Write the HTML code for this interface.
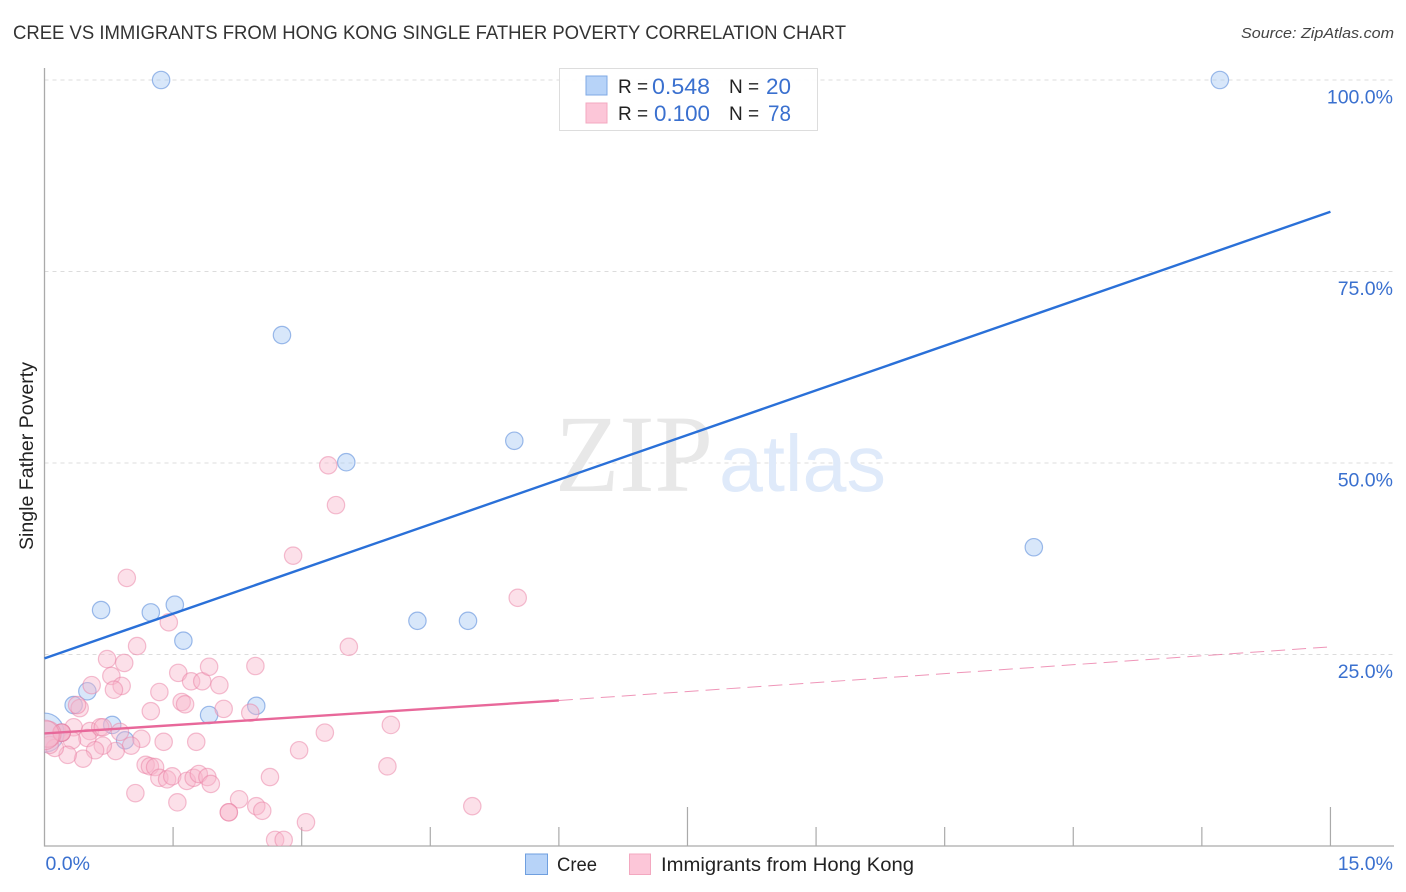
<!DOCTYPE html>
<html>
<head>
<meta charset="utf-8">
<title>Cree vs Immigrants from Hong Kong Single Father Poverty Correlation Chart</title>
<style>
html,body{margin:0;padding:0;background:#fff;width:1406px;height:892px;overflow:hidden}
svg{display:block}
text{font-family:"Liberation Sans",sans-serif}
</style>
</head>
<body>
<svg id="chart" width="1406" height="892" viewBox="0 0 1406 892" xmlns="http://www.w3.org/2000/svg">
  <defs><clipPath id="plot-clip"><rect x="44.5" y="60" width="1350" height="786"/></clipPath></defs>
  <text x="13" y="39" font-size="19" fill="#333" textLength="833" lengthAdjust="spacingAndGlyphs">CREE VS IMMIGRANTS FROM HONG KONG SINGLE FATHER POVERTY CORRELATION CHART</text>
  <text x="1241" y="38" font-size="15" font-style="italic" fill="#444" textLength="153" lengthAdjust="spacingAndGlyphs">Source: ZipAtlas.com</text>
  <g id="grid"></g>
  <g>
    <text x="555" y="491" font-size="110" fill="#e8e8e8" style="font-family:'Liberation Serif',serif" textLength="158" lengthAdjust="spacingAndGlyphs">ZIP</text>
    <text x="719" y="491" font-size="80" fill="#dfeafa" textLength="167" lengthAdjust="spacingAndGlyphs">atlas</text>
  </g>
  <g id="axes"></g>
  <g id="marks" clip-path="url(#plot-clip)"></g>
  <g id="trends"></g>
  <g id="ylabels" font-size="19.5" fill="#3a70cf" text-anchor="end"></g>
  <g id="xlabels" font-size="19.5" fill="#3a70cf"></g>
  <text transform="translate(33,456) rotate(-90)" font-size="19" fill="#222" text-anchor="middle" textLength="188" lengthAdjust="spacingAndGlyphs">Single Father Poverty</text>

  <g>
    <rect x="559.5" y="68.5" width="258" height="62" fill="#fff" fill-opacity="0.9" stroke="#ddd"/>
    <rect x="586" y="76" width="21" height="19" fill="#b7d3f8" stroke="#7fa9e4"/>
    <rect x="586" y="103" width="21" height="20" fill="#fcc6d8" stroke="#f3a8c0"/>
    <text x="618" y="93" font-size="19" fill="#222">R =</text>
    <text x="652" y="94" font-size="22" fill="#3a70cf" textLength="58" lengthAdjust="spacingAndGlyphs">0.548</text>
    <text x="729" y="93" font-size="19" fill="#222">N =</text>
    <text x="766" y="94" font-size="22" fill="#3a70cf" textLength="25" lengthAdjust="spacingAndGlyphs">20</text>
    <text x="618" y="120" font-size="19" fill="#222">R =</text>
    <text x="654" y="121" font-size="22" fill="#3a70cf" textLength="56" lengthAdjust="spacingAndGlyphs">0.100</text>
    <text x="729" y="120" font-size="19" fill="#222">N =</text>
    <text x="768" y="121" font-size="22" fill="#3a70cf" textLength="23" lengthAdjust="spacingAndGlyphs">78</text>
  </g>

  <g>
    <g>
      <rect x="525.5" y="854" width="22" height="20.5" fill="#b7d3f8" stroke="#6f9fdf"/>
      <text x="557" y="871" font-size="19.5" fill="#222" textLength="40" lengthAdjust="spacingAndGlyphs">Cree</text>
    </g>
    <g>
      <rect x="629.5" y="854" width="21" height="20.5" fill="#fcc6d8" stroke="#f3a8c0"/>
      <text x="661" y="871" font-size="19.5" fill="#222" textLength="253" lengthAdjust="spacingAndGlyphs">Immigrants from Hong Kong</text>
    </g>
  </g>
</svg>
<script>
var creeX = [1.36,13.71,2.77,3.52,5.48,11.54,0.66,1.24,1.52,1.62,4.35,4.94,0.34,0.50,0.79,0.94,1.92,2.47,0.20,0.00];
var creeY = [100,100,66.7,50.1,52.9,39.0,30.8,30.5,31.5,26.8,29.4,29.4,18.4,20.2,15.8,13.8,17.1,18.3,14.8,14.8];
var creeWeight = [1,1,1,1,1,1,1,1,1,1,1,1,1,1,1,1,1,1,1,2.25];

var hongKongX = [1.08,0.73,0.93,0.78,0.55,0.90,0.81,1.34,1.56,1.71,1.84,1.92,2.04,2.46,1.24,1.60,1.64,2.09,2.40,0.41,0.38,0.34,0.53,0.65,0.68,0.88,1.13,1.39,1.77,0.50,0.32,1.01,0.83,0.68,0.59,0.45,0.27,0.12,1.18,1.23,1.29,1.34,1.43,1.49,1.66,1.74,1.80,1.90,1.94,1.06,1.55,2.27,2.15,2.15,2.47,2.54,2.69,2.79,2.63,3.05,3.55,4.04,3.27,2.97,4.00,4.99,0.96,2.90,3.40,3.31,5.52,1.45,0.06,0.20,0.20,0.20,0.04,0.00];
var hongKongY = [26.1,24.4,23.9,22.2,21.0,20.9,20.4,20.1,22.6,21.5,21.5,23.4,21.0,23.5,17.6,18.8,18.5,17.9,17.4,18.0,18.4,15.5,15.0,15.5,15.5,14.9,14.0,13.6,13.6,14.1,13.8,13.1,12.4,13.1,12.5,11.4,11.9,12.8,10.6,10.4,10.3,8.9,8.7,9.1,8.5,8.9,9.4,9.0,8.1,6.9,5.7,6.1,4.4,4.4,5.2,4.6,0.8,0.8,9.0,3.1,26.0,15.8,14.8,12.5,10.4,5.2,35.0,37.9,44.5,49.7,32.4,29.2,13.2,14.8,14.8,14.8,14.6,14.5];
var hongKongWeight = [1,1,1,1,1,1,1,1,1,1,1,1,1,1,1,1,1,1,1,1,1,1,1,1,1,1,1,1,1,1,1,1,1,1,1,1,1,1,1,1,1,1,1,1,1,1,1,1,1,1,1,1,1,1,1,1,1,1,1,1,1,1,1,1,1,1,1,1,1,1,1,1,1,1,1,1,1.5,1.7];

var creeTrendX = [0,15];
var creeTrendY = [24.5,82.8];
var hongKongTrendSolidX = [0,6];
var hongKongTrendSolidY = [14.7,19.0];
var hongKongTrendDashX = [6,15];
var hongKongTrendDashY = [19.0,26.0];

var yTicks = [25,50,75,100];
var yTickLabels = ["25.0%","50.0%","75.0%","100.0%"];
var xTicks = [0,1.5,3,4.5,6,7.5,9,10.5,12,13.5,15];
var xMajorTicks = [7.5,15];
var xEndTicks = [0,15];
var xEndLabels = ["0.0%","15.0%"];

function sx(v){ return 44.5 + v * 85.73; }
function sy(v){ return 846 - v * 7.66; }
var NS = "http://www.w3.org/2000/svg";
function make(tag, parent, attrs){
  var el = document.createElementNS(NS, tag);
  for (var k in attrs) el.setAttribute(k, attrs[k]);
  parent.appendChild(el);
  return el;
}
var grid = document.getElementById("grid");
var axes = document.getElementById("axes");
var marks = document.getElementById("marks");
var trends = document.getElementById("trends");
var ylabels = document.getElementById("ylabels");
var xlabels = document.getElementById("xlabels");

yTicks.forEach(function(t, i){
  var g = make("line", grid, {x1:44.5, x2:1394, y1:sy(t), y2:sy(t), stroke:"#dcdcdc", "stroke-width":1, "stroke-dasharray":"4 4"});
  
  
  var l = make("text", ylabels, {x:1393, y:sy(t) + 23.5});
  l.textContent = yTickLabels[i];
  
  
});

var yAxis = make("line", axes, {x1:44.5, x2:44.5, y1:68, y2:846.5, stroke:"#aaa", "stroke-width":1.3});


var xAxis = make("line", axes, {x1:44, x2:1394, y1:846, y2:846, stroke:"#aaa", "stroke-width":1.3});



xTicks.forEach(function(t){
  if (t === 0) return;
  var top = xMajorTicks.indexOf(t) >= 0 ? 807 : 827;
  var k = make("line", axes, {x1:sx(t), x2:sx(t), y1:top, y2:846, stroke:"#aaa", "stroke-width":1.2});
  
  
});

xEndTicks.forEach(function(t, i){
  var l = make("text", xlabels, {x: i === 0 ? sx(t) + 1 : 1393, y:870, "text-anchor": i === 0 ? "start" : "end"});
  l.textContent = xEndLabels[i];
  
  
});

creeX.forEach(function(x, i){
  var c = make("circle", marks, {cx:sx(x), cy:sy(creeY[i]), r:8.7 * creeWeight[i], fill:"#a9c9f5", "fill-opacity":0.45, stroke:"#5f8fdc", "stroke-opacity":0.6, "stroke-width":1.2});
  
  
});
hongKongX.forEach(function(x, i){
  var c = make("circle", marks, {cx:sx(x), cy:sy(hongKongY[i]), r:8.7 * hongKongWeight[i], fill:"#f9b4cb", "fill-opacity":0.42, stroke:"#ea7fa3", "stroke-opacity":0.5, "stroke-width":1.2});
  
  
});

var t1 = make("line", trends, {x1:sx(creeTrendX[0]), y1:sy(creeTrendY[0]), x2:sx(creeTrendX[1]), y2:sy(creeTrendY[1]), stroke:"#2a70d8", "stroke-width":2.4});


var t2 = make("line", trends, {x1:sx(hongKongTrendSolidX[0]), y1:sy(hongKongTrendSolidY[0]), x2:sx(hongKongTrendSolidX[1]), y2:sy(hongKongTrendSolidY[1]), stroke:"#e8689a", "stroke-width":2.4});


var t3 = make("line", trends, {x1:sx(hongKongTrendDashX[0]), y1:sy(hongKongTrendDashY[0]), x2:sx(hongKongTrendDashX[1]), y2:sy(hongKongTrendDashY[1]), stroke:"#e8689a", "stroke-width":1, "stroke-dasharray":"14 7", "stroke-opacity":0.7});


</script>
</body>
</html>
